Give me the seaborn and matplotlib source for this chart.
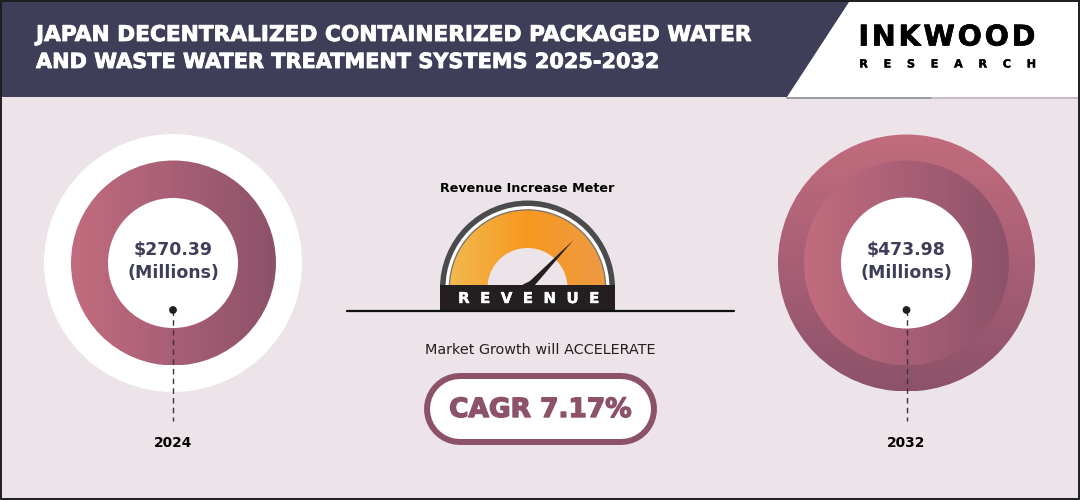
"""
Infographic: Japan decentralized containerized water treatment market, 2024 vs 2032.
"""

import numpy as np
import matplotlib.pyplot as plt
import matplotlib.patheffects as pe
from matplotlib.patches import Circle, Polygon, Rectangle, Wedge
import seaborn as sns

TITLE_LINES = [
    "JAPAN DECENTRALIZED CONTAINERIZED PACKAGED WATER",
    "AND WASTE WATER TREATMENT SYSTEMS 2025-2032",
]
YEARS = ["2024", "2032"]
REVENUE = [270.39, 473.98]
CAGR = 7.17

BG = "#ece4e9"
NAVY = "#3f3e58"
PLUM = "#8c5269"
ROSE = "#c26c7e"
INK = "#231f20"
WIDE_FONT = "DejaVu Sans"

sns.set_theme(style="white")
rose_cmap = sns.blend_palette([ROSE, "#a85f76", PLUM], as_cmap=True)
gauge_cmap = sns.blend_palette(["#f2b94f", "#f7981f", "#ee9a45"], as_cmap=True)


def gradient(ax, patch, cmap, vertical=False):
    """Fill a patch with a linear gradient, by clipping an image to it."""
    ax.add_patch(patch)
    patch.set_facecolor("none")
    x0, y0, x1, y1 = patch.get_path().transformed(patch.get_patch_transform()).get_extents().extents
    ramp = np.linspace(0, 1, 256)
    ramp = ramp[:, None] if vertical else ramp[None, :]
    im = ax.imshow(ramp, extent=(x0, x1, y1, y0), cmap=cmap, aspect="auto", zorder=patch.get_zorder())
    im.set_clip_path(patch)


def label(ax, x, y, text, color, size, stroke=0.0, **kwargs):
    """Bold text; a thin stroke thickens it towards the heavy weight of the original."""
    t = ax.text(x, y, text, color=color, fontsize=size, fontweight=kwargs.pop("weight", "bold"),
                family=WIDE_FONT, ha=kwargs.pop("ha", "center"), va="center", **kwargs)
    if stroke:
        t.set_path_effects([pe.withStroke(linewidth=stroke, foreground=color)])
    return t


fig = plt.figure(figsize=(10.8, 5.0), dpi=100, facecolor=BG)
ax = fig.add_axes([0, 0, 1, 1])
ax.axis("off")

# Header band and logo block
ax.add_patch(Rectangle((0, 0), 1080, 97, color=NAVY, lw=0))
ax.add_patch(Polygon([(849, 2), (1080, 2), (1080, 97), (787, 97)], color="white", lw=0))
ax.plot([787, 932], [97.5, 97.5], color="#9c98a0", lw=1.4)
ax.plot([932, 1080], [97.5, 97.5], color="#c5bec4", lw=1.4)
for i, (line, size) in enumerate(zip(TITLE_LINES, [15.6, 15.0])):
    label(ax, 36, 35 + i * 27, line, "white", size, stroke=0.6, ha="left")
label(ax, 947, 37.5, "I\u200aN\u200aK\u200aW\u200aO\u200aO\u200aD", "black", 20.5, stroke=0.5)
label(ax, 947, 64.5, "R    E    S    E    A    R    C    H", "black", 8.1, stroke=0.2)

# 2024 ring
ax.add_patch(Circle((173, 263), 129, color="white", lw=0))
gradient(ax, Circle((173.5, 263), 102.5, lw=0, zorder=2), rose_cmap)
ax.add_patch(Circle((173, 263), 65, color="white", lw=0, zorder=3))

# 2032 ring
gradient(ax, Circle((906.5, 263), 128.5, lw=0, zorder=1), rose_cmap, vertical=True)
gradient(ax, Circle((906.5, 263), 102.5, lw=0, zorder=2), rose_cmap)
ax.add_patch(Circle((906.5, 263), 65.5, color="white", lw=0, zorder=3))

for cx, year, value in zip([173, 906.5], YEARS, REVENUE):
    label(ax, cx, 250, f"${value:.2f}", NAVY, 12.5, zorder=5)
    label(ax, cx, 273, "(Millions)", NAVY, 12.5, zorder=5)
    ax.plot([cx, cx], [310, 421], color="#3a3540", lw=1.0, dashes=(4, 3), zorder=4)
    ax.add_patch(Circle((cx, 310), 3.9, color=INK, lw=0, zorder=5))
    label(ax, cx, 443, year, "black", 9.9)

# Revenue gauge
gx, gy = 527.5, 288
label(ax, gx, 188, "Revenue Increase Meter", "black", 9.2)
ax.add_patch(Wedge((gx, gy), 87.5, 180, 360, color="#4b4a4d", lw=0, zorder=2))
ax.add_patch(Wedge((gx, gy), 82, 180, 360, color="white", lw=0, zorder=2))
ax.add_patch(Wedge((gx, gy), 78.8, 180, 360, color="#77736f", lw=0, zorder=2))
gradient(ax, Wedge((gx, gy), 77.5, 180, 360, lw=0, zorder=3), gauge_cmap)
ax.add_patch(Wedge((gx, gy), 40, 180, 360, color=BG, lw=0, zorder=4))
ax.add_patch(Polygon([(522, 285), (530, 281), (573.5, 240), (535, 285)], color=INK, lw=0, zorder=5))
ax.add_patch(Rectangle((440, 285), 175, 25, color=INK, lw=0, zorder=6))
ax.plot([347, 734], [310.5, 310.5], color="#111111", lw=1.6, zorder=6)
label(ax, 529, 298.5, "R  E  V  E  N  U  E", "white", 10.8, stroke=0.3, zorder=7)

# CAGR pill, drawn as two round-capped strokes
ax.plot([460, 621], [409, 409], color=PLUM, lw=72 * 0.72, solid_capstyle="round", zorder=2)
ax.plot([460, 621], [409, 409], color="white", lw=60 * 0.72, solid_capstyle="round", zorder=3)
label(ax, 540.5, 350, "Market Growth will ACCELERATE", INK, 10.4, weight="normal")
label(ax, 540.5, 410, f"CAGR {CAGR:.2f}%", PLUM, 19, stroke=1.0, zorder=4)

# Dark image border
ax.add_patch(Rectangle((1, 1), 1078, 498, fill=False, edgecolor="#1f1f22", lw=1.4, zorder=10))

ax.set_xlim(0, 1080)
ax.set_ylim(500, 0)

fig.savefig("out.png", dpi=100)
plt.close(fig)
